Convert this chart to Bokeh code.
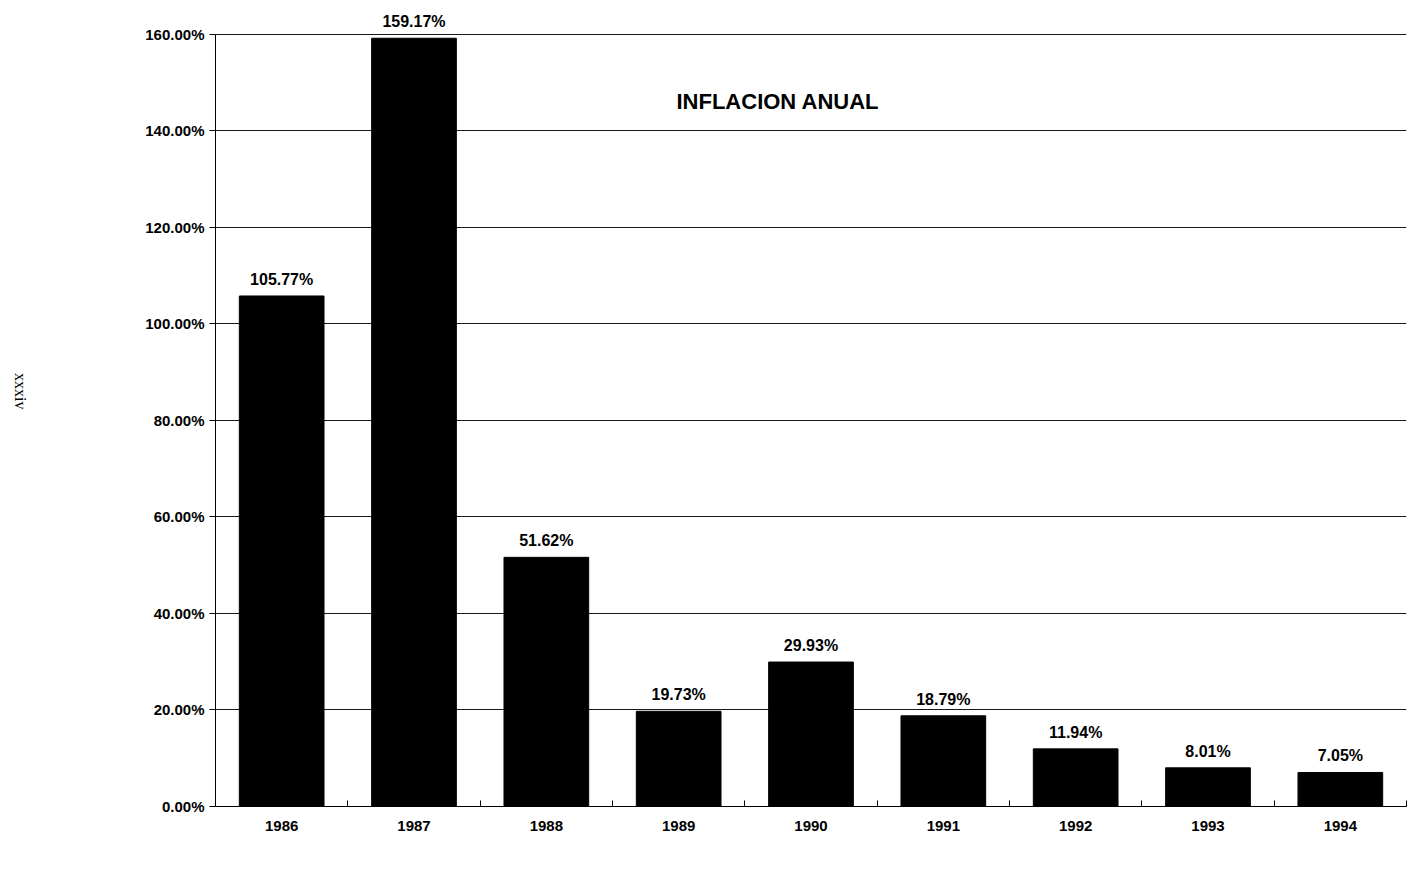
import math
from bokeh.plotting import figure
from bokeh.layouts import row
from bokeh.models import ColumnDataSource, FixedTicker, Label, LabelSet
from bokeh.core.properties import value
from bokeh.embed import file_html
from bokeh.resources import INLINE

years = ["1986", "1987", "1988", "1989", "1990", "1991", "1992", "1993", "1994"]
inflation = [105.77, 159.17, 51.62, 19.73, 29.93, 18.79, 11.94, 8.01, 7.05]
label_text = ["105.77%", "159.17%", "51.62%", "19.73%", "29.93%", "18.79%", "11.94%", "8.01%", "7.05%"]
y_ticks = [0, 20, 40, 60, 80, 100, 120, 140, 160]
y_tick_labels = ["0.00%", "20.00%", "40.00%", "60.00%", "80.00%", "100.00%", "120.00%", "140.00%", "160.00%"]
page_number = "xxxiv"

xs = [i + 0.5 for i in range(len(years))]
src = ColumnDataSource(dict(x=xs, top=inflation, lab=label_text))

p = figure(width=1381, height=891, x_range=(0, len(years)), y_range=(0, 164.5),
           output_backend="svg", toolbar_location=None,
           min_border_left=175, min_border_right=15, min_border_top=12, min_border_bottom=85)
p.outline_line_color = None
p.background_fill_color = "white"

p.vbar(x="x", top="top", width=0.64, bottom=0, source=src, color="black")

labels = LabelSet(x="x", y="top", text="lab", source=src, text_align="center",
                  text_baseline="bottom", y_offset=8, text_font=value("Liberation Sans"),
                  text_font_style="bold", text_font_size="16px", text_color="black")
p.add_layout(labels)

# axes
p.yaxis.ticker = FixedTicker(ticks=y_ticks)
p.yaxis.bounds = (0, 160)
p.yaxis.major_label_overrides = {t: l for t, l in zip(y_ticks, y_tick_labels)}
p.yaxis.major_label_text_font = "Liberation Sans"
p.yaxis.major_label_text_font_style = "bold"
p.yaxis.major_label_text_font_size = "15px"
p.yaxis.major_label_text_color = "black"
p.yaxis.major_tick_out = 6
p.yaxis.major_tick_in = 0
p.yaxis.minor_tick_line_color = None
p.yaxis.axis_line_color = "black"

p.xaxis.ticker = FixedTicker(ticks=xs, minor_ticks=list(range(len(years) + 1)))
p.xaxis.major_label_overrides = {x: y for x, y in zip(xs, years)}
p.xaxis.major_label_text_font = "Liberation Sans"
p.xaxis.major_label_text_font_style = "bold"
p.xaxis.major_label_text_font_size = "15px"
p.xaxis.major_label_text_color = "black"
p.xaxis.major_tick_out = 0
p.xaxis.major_tick_in = 0
p.xaxis.minor_tick_out = 0
p.xaxis.minor_tick_in = 6
p.xaxis.major_label_standoff = 14
p.xaxis.axis_line_color = "black"

p.xgrid.grid_line_color = None
p.ygrid.grid_line_color = "black"
p.ygrid.grid_line_width = 1
p.ygrid.grid_line_alpha = 0.9

title = Label(x=4.25, y=146, text="INFLACION ANUAL", text_font="Liberation Sans",
              text_font_style="bold", text_font_size="22px", text_align="center",
              text_baseline="middle", text_color="black")
p.add_layout(title)

# narrow side panel holding the page number
side = figure(width=40, height=891, x_range=(0, 1), y_range=(0, 891),
              output_backend="svg", toolbar_location=None,
              min_border=0)
side.axis.visible = False
side.grid.grid_line_color = None
side.outline_line_color = None
side.text(x=[0.5], y=[466], text=[page_number], angle=-math.pi / 2,
          text_font=value("Liberation Serif"), text_font_size="16px",
          text_align="center", text_baseline="middle", text_color="black")

layout = row(side, p)
open("out.html", "w").write(file_html(layout, INLINE))
